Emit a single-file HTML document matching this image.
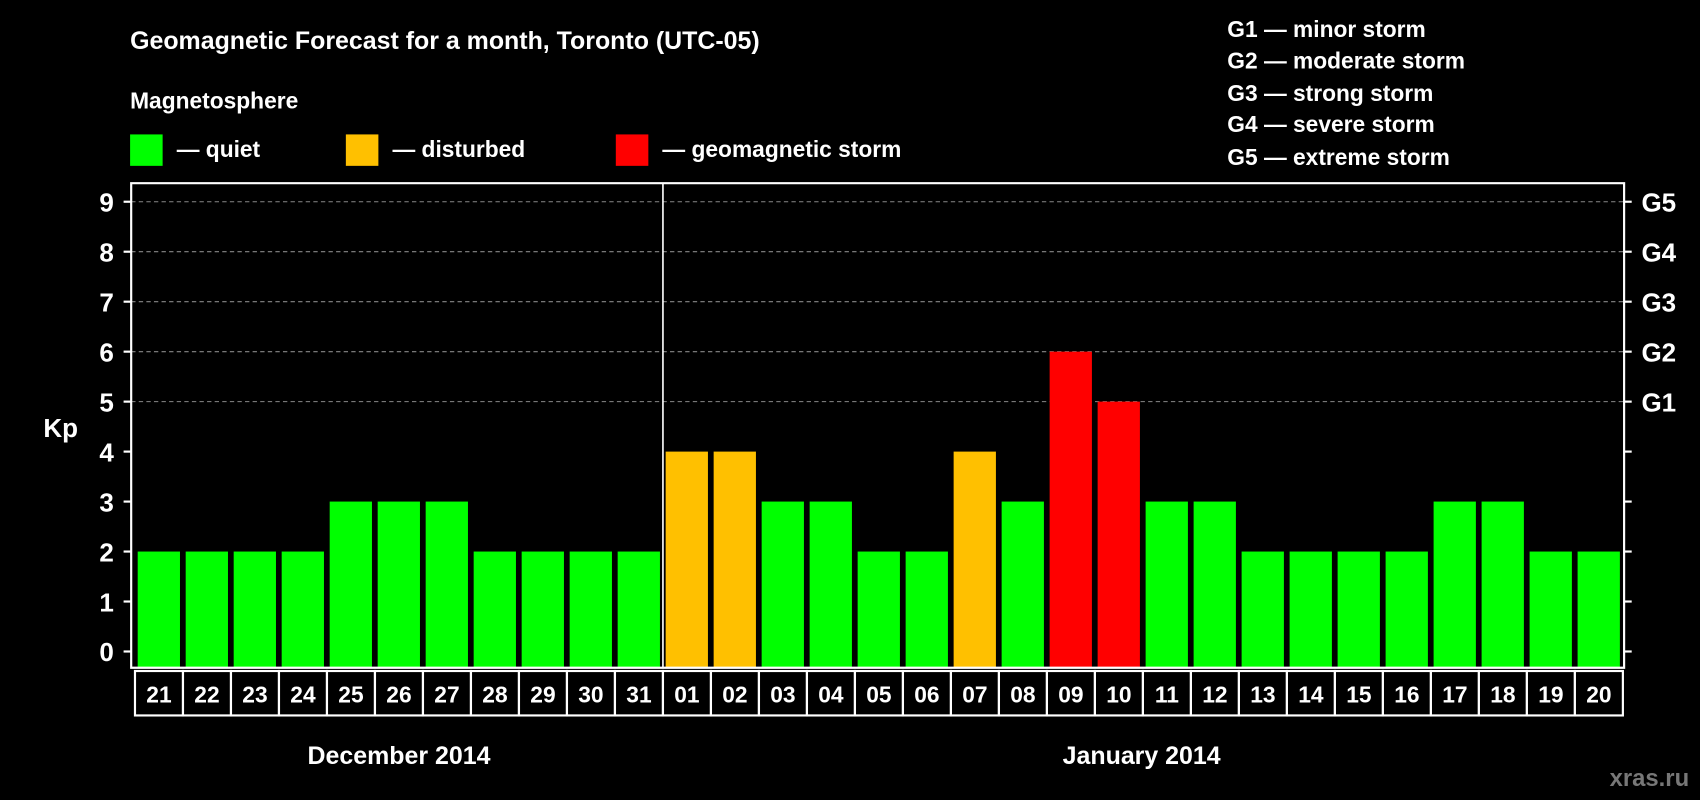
<!DOCTYPE html>
<html><head><meta charset="utf-8"><style>
html,body{margin:0;padding:0;background:#000;width:1700px;height:800px;overflow:hidden}
svg{display:block;font-family:"Liberation Sans",sans-serif;font-weight:bold}
</style></head><body>
<svg id="chart" width="1700" height="800" viewBox="0 0 1568 738" preserveAspectRatio="none">
<rect x="0" y="0" width="1568" height="738" fill="#000"/>
<text x="120" y="45" fill="#fff" font-size="23">Geomagnetic Forecast for a month, Toronto (UTC-05)</text>
<text x="120" y="100" fill="#fff" font-size="21">Magnetosphere</text>
<g><rect x="120" y="124" width="30" height="29" fill="#00ff00"/><text x="163" y="145" fill="#fff" font-size="21">— quiet</text></g>
<g><rect x="319" y="124" width="30" height="29" fill="#ffc000"/><text x="362" y="145" fill="#fff" font-size="21">— disturbed</text></g>
<g><rect x="568" y="124" width="30" height="29" fill="#ff0000"/><text x="611" y="145" fill="#fff" font-size="21">— geomagnetic storm</text></g>
<g fill="#fff" font-size="21">
<text x="1132" y="34">G1 — minor storm</text>
<text x="1132" y="63">G2 — moderate storm</text>
<text x="1132" y="93">G3 — strong storm</text>
<text x="1132" y="122">G4 — severe storm</text>
<text x="1132" y="152">G5 — extreme storm</text>
</g>
<text x="40" y="403" fill="#fff" font-size="24">Kp</text>
<g id="grid"></g>
<g id="bars"></g>
<g id="axes"></g>
<text x="368" y="705" fill="#fff" font-size="23" text-anchor="middle">December 2014</text>
<text x="1053" y="705" fill="#fff" font-size="23" text-anchor="middle">January 2014</text>
<text x="1558" y="725" fill="#777" font-size="22" text-anchor="end">xras.ru</text>
</svg>
<script>
const days = ["21","22","23","24","25","26","27","28","29","30","31","01","02","03","04","05","06","07","08","09","10","11","12","13","14","15","16","17","18","19","20"];
const kpValues = [2,2,2,2,3,3,3,2,2,2,2,4,4,3,3,2,2,4,3,6,5,3,3,2,2,2,2,3,3,2,2];
const yTicks = [0,1,2,3,4,5,6,7,8,9];
const gLabels = ["","","","","","G1","G2","G3","G4","G5"];
const NS="http://www.w3.org/2000/svg";
const L=121,R=1498,T=169,B=616;
const x0=127,slot=44.27,bw=39;
function yS(v){return 601-v*46.1;}
function xS(i){return x0+i*slot;}
function mk(tag,attrs,parent){const e=document.createElementNS(NS,tag);for(const k in attrs)e.setAttribute(k,attrs[k]);parent.appendChild(e);return e;}
const grid=document.getElementById('grid'),bars=document.getElementById('bars'),axes=document.getElementById('axes');
yTicks.forEach((v,i)=>{
  if(v>=5){const g=mk('line',{x1:L,x2:R,y1:yS(v),y2:yS(v),stroke:'#888','stroke-dasharray':'4,3','stroke-width':1},grid);
  
  }
  const t=mk('line',{x1:L-7,x2:L,y1:yS(v),y2:yS(v),stroke:'#fff','stroke-width':2},axes);
  
  
  const t2=mk('line',{x1:R,x2:R+7,y1:yS(v),y2:yS(v),stroke:'#fff','stroke-width':2},axes);
  
  
  const lb=mk('text',{x:105,y:yS(v)+9,fill:'#fff','font-size':24,'text-anchor':'end'},axes);lb.textContent=v;
  
  
  if(gLabels[i]){const gl=mk('text',{x:1514,y:yS(v)+9,fill:'#fff','font-size':24},axes);gl.textContent=gLabels[i];
  
  }
});
kpValues.forEach((v,i)=>{
  const c=v>=5?'#ff0000':(v>=4?'#ffc000':'#00ff00');
  const r=mk('rect',{x:xS(i),y:yS(v),width:bw,height:B-yS(v),fill:c},bars);
  
  
  const bx=mk('rect',{x:xS(i)-2.5,y:619,width:slot,height:41,fill:'#000',stroke:'#fff','stroke-width':2},axes);
  
  
  const t=mk('text',{x:xS(i)-2.5+slot/2,y:648,fill:'#fff','font-size':21,'text-anchor':'middle'},axes);t.textContent=days[i];
  
  
});
const fr=mk('path',{d:`M${L},${T} H${R} V${B} H${L} Z`,fill:'none',stroke:'#fff','stroke-width':2},axes);


const sepX=xS(11)-2.5;
const sp=mk('line',{x1:sepX,x2:sepX,y1:T,y2:B,stroke:'#fff','stroke-width':1.5},axes);


</script>
</body></html>
